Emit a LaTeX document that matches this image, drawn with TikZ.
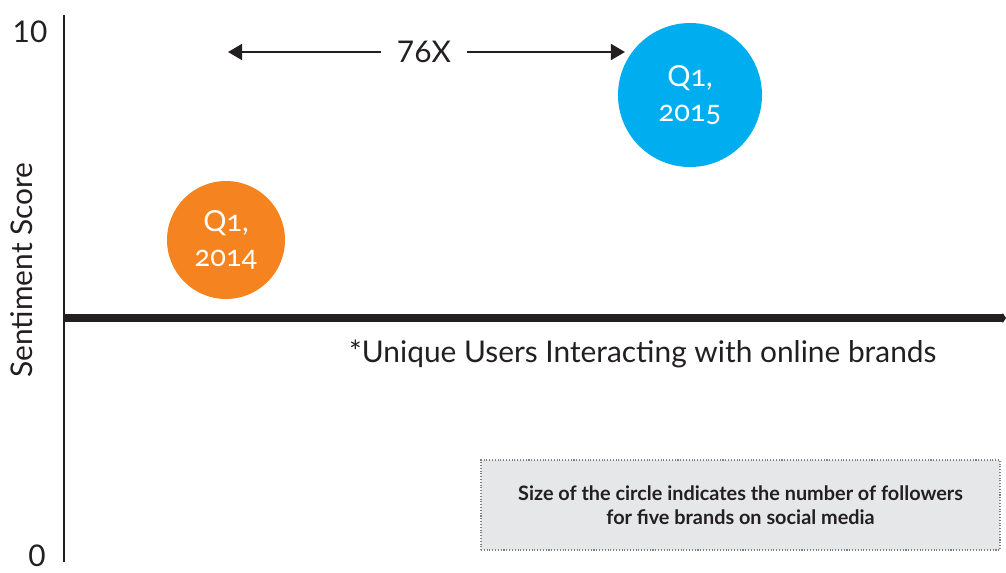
\documentclass[tikz,border=0pt]{standalone}
\usepackage{fontspec}
\setmainfont{Lato}
\usetikzlibrary{arrows.meta,positioning}
\definecolor{inkdark}{HTML}{231F20}
\definecolor{qorange}{HTML}{F58420}
\definecolor{qblue}{HTML}{00AEEF}
\definecolor{notegray}{HTML}{E6E7E8}

\begin{document}
\begin{tikzpicture}[x=0.02cm,y=-0.02cm,
		every node/.style={text=inkdark},
		axislbl/.style={font=\fontsize{17}{20}\selectfont},
		bubble/.style={circle,inner sep=0pt,fill=#1,text=white,align=center,
			font=\fontsize{16.5}{20}\selectfont\addfontfeatures{Numbers=OldStyle}},
		gap/.style={line width=1.4pt,draw=inkdark,-{Triangle[length=8pt,width=9pt]}},
		notebox/.style={draw=gray,densely dotted,line width=0.6pt,fill=notegray,
			minimum width=519*0.02cm,minimum height=90*0.02cm,align=center,
			font=\fontsize{11.3}{13.6}\selectfont\bfseries}
		]
	\useasboundingbox (0,0) rectangle (1006,572);
	% axes
	\coordinate (ytop) at (64,15);
	\coordinate (ybot) at (64,562);
	\coordinate (xleft) at (64,318);
	\coordinate (xright) at (1006,318);
	\draw[line width=1.7pt,draw=inkdark] (ytop) -- (ybot);
	\draw[line width=4pt,draw=inkdark,-{Triangle[length=2pt,width=6pt]}] (xleft) -- (xright);
	\node[axislbl] (ten) at (30,32) {10};
	\node[axislbl] (zero) at (37,556) {0};
	\node[axislbl,rotate=90] (score) at (22,270) {Sentiment Score};
	\node[axislbl,anchor=west] (users) at (343,354) {*Unique Users Interacting with online brands};
	% bubbles
	\node[bubble=qorange,minimum size=118*0.02cm] (y14) at (226,240) {Q1,\\2014};
	\node[bubble=qblue,minimum size=144*0.02cm] (y15) at (690,95) {Q1,\\2015};
	% growth arrow
	\coordinate (gl) at (228,52);
	\coordinate (gr) at (625,52);
	\node[axislbl,inner xsep=9pt] (times) at (424,52) {76X};
	\draw[gap] (times) -- (gl);
	\draw[gap] (times) -- (gr);
	% note
	\node[notebox] (note) at (740.5,505) {Size of the circle indicates the number of followers\\for five brands on social media};
\end{tikzpicture}
\end{document}
